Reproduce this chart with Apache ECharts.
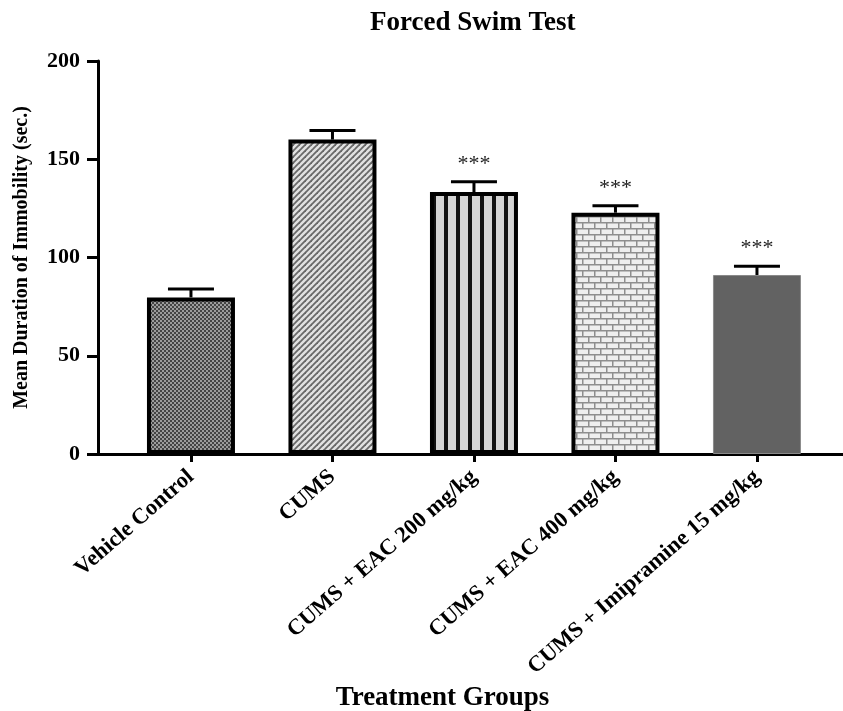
<!DOCTYPE html>
<html>
<head>
<meta charset="utf-8">
<script src="https://cdn.jsdelivr.net/npm/echarts@6/dist/echarts.min.js"></script>
<style>html,body{margin:0;padding:0;background:#fff;overflow:hidden;}#c{width:843px;height:711px;}</style>
</head>
<body>
<div id="c"></div>
<script>
const categories = ['Vehicle Control', 'CUMS', 'CUMS + EAC 200 mg/kg', 'CUMS + EAC 400 mg/kg', 'CUMS + Imipramine 15 mg/kg'];
const means = [79.7, 160, 133.3, 122.8, 91.1];
const sem = [4.3, 4.6, 5.2, 3.5, 4.4];
const sig = ['', '', '***', '***', '***'];
const yTicks = [0, 50, 100, 150, 200];
const positions = [0, 1, 2, 3, 4];

function pat(w, h, draw) {
  const c = document.createElement('canvas');
  c.width = w; c.height = h;
  const g = c.getContext('2d');
  draw(g, w, h);
  return { image: c, repeat: 'repeat' };
}
const patterns = [
  pat(4, 4, (g) => { g.fillStyle = '#444'; g.fillRect(0, 0, 4, 4); g.fillStyle = '#9c9c9c'; g.fillRect(0, 0, 2, 2); g.fillRect(2, 2, 2, 2); }),
  pat(6, 6, (g) => { g.fillStyle = '#e2e2e2'; g.fillRect(0, 0, 6, 6); g.strokeStyle = '#686868'; g.lineWidth = 1.8;
    [0, 6, 12].forEach(k => { g.beginPath(); g.moveTo(k - 7, 7); g.lineTo(k + 1, -1); g.stroke(); }); }),
  pat(12, 12, (g) => { g.fillStyle = '#d4d4d4'; g.fillRect(0, 0, 12, 12); g.fillStyle = '#111'; g.fillRect(0, 0, 4, 12); }),
  pat(12, 12, (g) => { g.fillStyle = '#eeeeee'; g.fillRect(0, 0, 12, 12); g.fillStyle = '#8e8e8e';
    g.fillRect(0, 0, 12, 1.5); g.fillRect(0, 6, 12, 1.5); g.fillRect(0, 0, 1.5, 6); g.fillRect(6, 6, 1.5, 6); }),
  '#626262'
];

const font = "'Liberation Serif', 'Times New Roman', serif";
const chart = echarts.init(document.getElementById('c'), null, { renderer: 'canvas', width: 843, height: 711 });

const barData = positions.map((p, i) => ({
  value: [p, means[i]],
  itemStyle: i < 4
    ? { color: patterns[i], borderColor: '#000', borderWidth: 4 }
    : { color: patterns[i], borderColor: '#8a8a8a', borderWidth: 1 }
}));
const errData = positions.map((p, i) => [p, means[i], sem[i], i]);

chart.setOption({
  animation: false,
  title: {
    text: 'Forced Swim Test', left: 365, top: 5,
    textStyle: { fontFamily: font, fontWeight: 'bold', fontSize: 27, color: '#000' }
  },
  grid: { left: 98, right: 0, top: 61, bottom: 257, containLabel: false, outerBoundsMode: 'none' },
  xAxis: {
    type: 'value', min: -0.657, max: 4.608,
    splitLine: { show: false },
    axisLine: { show: true, onZero: false, lineStyle: { color: '#000', width: 3 } },
    axisTick: { show: true, customValues: positions, length: 8, lineStyle: { color: '#000', width: 3 } },
    axisLabel: {
      customValues: positions, rotate: 41, margin: 20,
      formatter: (v) => categories[Math.round(v)] || '',
      fontFamily: font, fontWeight: 'bold', fontSize: 22.5, color: '#000'
    },
    name: 'Treatment Groups', nameLocation: 'middle', nameGap: 231, nameMoveOverlap: false,
    nameTextStyle: { fontFamily: font, fontWeight: 'bold', fontSize: 27, color: '#000', padding: [0, 56, 0, 0] }
  },
  yAxis: {
    type: 'value', min: 0, max: 200, interval: 50,
    splitLine: { show: false },
    axisLine: { show: true, onZero: false, lineStyle: { color: '#000', width: 3 } },
    axisTick: { show: true, length: 11, lineStyle: { color: '#000', width: 3 } },
    axisLabel: { margin: 18, fontFamily: font, fontWeight: 'bold', fontSize: 22, color: '#000',
      customValues: yTicks },
    name: 'Mean Duration of Immobility (sec.)', nameLocation: 'middle', nameGap: 66, nameRotate: 90,
    nameMoveOverlap: false,
    nameTextStyle: { fontFamily: font, fontWeight: 'bold', fontSize: 20, color: '#000' }
  },
  series: [
    { type: 'bar', data: barData, barWidth: 88, z: 2 },
    {
      type: 'custom', z: 3, data: errData,
      renderItem: (params, api) => {
        const x = api.value(0), m = api.value(1), e = api.value(2), idx = api.value(3);
        const base = api.coord([x, m]);
        const top = api.coord([x, m + e]);
        const ls = { stroke: '#000', lineWidth: 3 };
        const children = [
          { type: 'line', shape: { x1: base[0], y1: base[1], x2: top[0], y2: top[1] }, style: ls },
          { type: 'line', shape: { x1: top[0] - 23, y1: top[1], x2: top[0] + 23, y2: top[1] }, style: ls }
        ];
        const s = sig[idx];
        if (s) {
          children.push({ type: 'text', x: top[0], y: top[1] - 18,
            style: { text: s, fontFamily: font, fontSize: 22, fill: '#1e1e1e', align: 'center', verticalAlign: 'middle' } });
        }
        return { type: 'group', children };
      }
    }
  ]
});
</script>
</body>
</html>
